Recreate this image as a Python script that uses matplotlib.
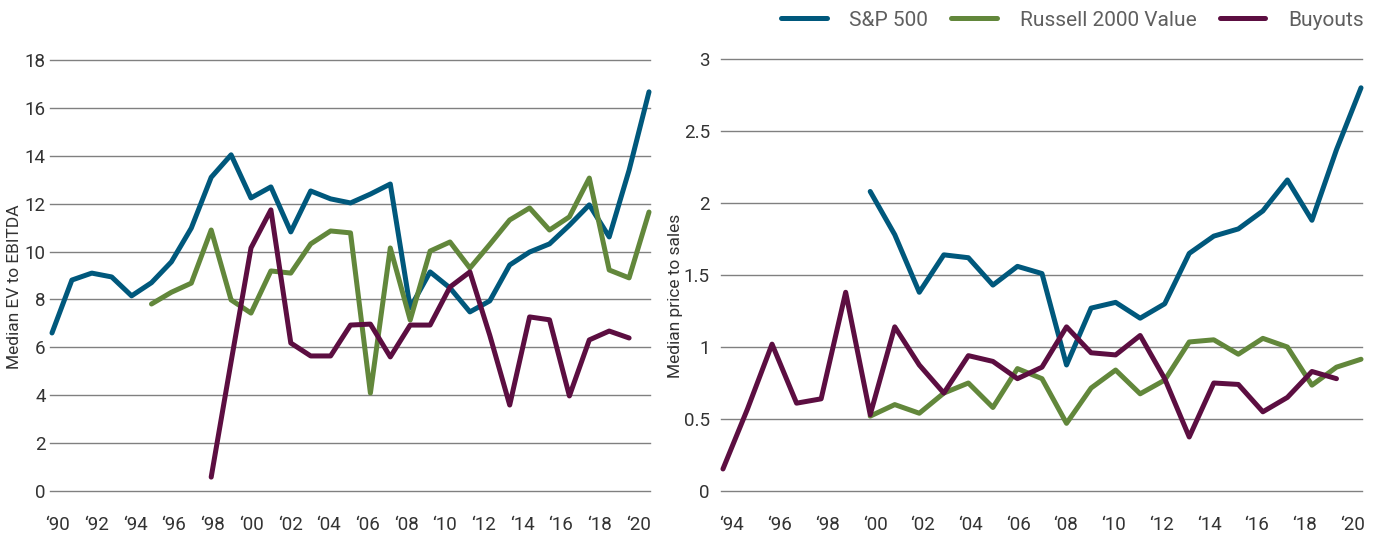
import matplotlib.pyplot as plt
import matplotlib.font_manager as fm

# Left panel: median EV / EBITDA
ev_sp_years = list(range(1990, 2021))
ev_sp = [6.6, 8.81, 9.1, 8.94, 8.15, 8.7, 9.57, 10.98, 13.1, 14.04, 12.24, 12.7, 10.82,
         12.53, 12.2, 12.03, 12.4, 12.82, 7.65, 9.15, 8.48, 7.48, 7.94, 9.44, 9.98,
         10.32, 11.1, 11.95, 10.61, 13.4, 16.67]
ev_r2v_years = list(range(1995, 2021))
ev_r2v = [7.81, 8.3, 8.68, 10.9, 7.98, 7.43, 9.19, 9.1, 10.32, 10.86, 10.78, 4.09, 10.15,
          7.14, 10.02, 10.4, 9.31, 10.3, 11.32, 11.82, 10.9, 11.45, 13.07, 9.23, 8.9, 11.65]
ev_bo_years = list(range(1998, 2020))
ev_bo = [0.58, 5.4, 10.15, 11.74, 6.18, 5.64, 5.64, 6.93, 6.97, 5.6, 6.93, 6.93, 8.52,
         9.15, 6.5, 3.59, 7.27, 7.15, 3.97, 6.31, 6.68, 6.39]

# Right panel: median price / sales
ps_sp_years = list(range(2000, 2021))
ps_sp = [2.08, 1.78, 1.38, 1.64, 1.62, 1.43, 1.56, 1.51, 0.875, 1.27, 1.31, 1.2, 1.3,
         1.65, 1.77, 1.82, 1.945, 2.16, 1.88, 2.37, 2.8]
ps_r2v_years = list(range(2000, 2021))
ps_r2v = [0.52, 0.6, 0.54, 0.68, 0.75, 0.58, 0.85, 0.78, 0.47, 0.715, 0.84, 0.675, 0.77,
          1.035, 1.05, 0.95, 1.06, 1.0, 0.735, 0.86, 0.915]
ps_bo_years = list(range(1994, 2020))
ps_bo = [0.153, 0.57, 1.02, 0.61, 0.64, 1.38, 0.53, 1.14, 0.875, 0.68, 0.94, 0.9, 0.78,
         0.86, 1.14, 0.96, 0.945, 1.08, 0.78, 0.375, 0.75, 0.74, 0.55, 0.65, 0.83, 0.78]

left_labels = list(range(1990, 2021, 2))
right_labels = list(range(1994, 2021, 2))

BLUE = '#00587c'
GREEN = '#62873b'
PURPLE = '#5c0e41'
GRID = '#808080'
TXT = '#333333'

names = {f.name for f in fm.fontManager.ttflist}
FONT = 'Roboto' if 'Roboto' in names else 'DejaVu Sans'

W, H = 1377, 534
fig = plt.figure(figsize=(W / 100, H / 100), dpi=100)
ax1 = fig.add_axes([50 / W, 1 - 491 / H, 600 / W, 431 / H])
ax2 = fig.add_axes([721 / W, 1 - 491 / H, 641 / W, 432 / H])


def label_pos(years, start, shift):
    # the year labels sit on a slightly tighter spacing than the data points
    return [start + shift + (y - start) * 0.972 for y in years]


def style(ax, ylabel, ypad):
    for s in ax.spines.values():
        s.set_visible(False)
    ax.grid(axis='y', color=GRID, lw=1.0)
    ax.set_axisbelow(True)
    for g in ax.yaxis.get_gridlines():
        g.set_clip_on(False)
    ax.tick_params(length=0, labelsize=13.5, labelcolor=TXT)
    ax.tick_params(axis='y', pad=ypad)
    ax.tick_params(axis='x', pad=18)
    for t in ax.get_xticklabels() + ax.get_yticklabels():
        t.set_fontfamily(FONT)
    ax.set_ylabel(ylabel, fontsize=12.5, color=TXT, family=FONT)


for x, y, c, lab in [(ev_sp_years, ev_sp, BLUE, 'S&P 500'),
                     (ev_r2v_years, ev_r2v, GREEN, 'Russell 2000 Value'),
                     (ev_bo_years, ev_bo, PURPLE, 'Buyouts')]:
    ax1.plot(x, y, color=c, lw=3.6, solid_capstyle='round', label=lab, clip_on=False)

for x, y, c in [(ps_sp_years, ps_sp, BLUE), (ps_r2v_years, ps_r2v, GREEN),
                (ps_bo_years, ps_bo, PURPLE)]:
    ax2.plot(x, y, color=c, lw=3.6, solid_capstyle='round', clip_on=False)

ax1.set_xlim(1989.9, 2020.05)
ax1.set_ylim(0, 18)
ax1.set_yticks(range(0, 19, 2))
ax1.set_xticks(label_pos(left_labels, 1990, 0.30))
ax1.set_xticklabels(['\u2018' + f'{y % 100:02d}' for y in left_labels])

ax2.set_xlim(1993.92, 2020.04)
ax2.set_ylim(0, 3)
ax2.set_yticks([0, 0.5, 1, 1.5, 2, 2.5, 3])
ax2.set_yticklabels(['0', '0.5', '1', '1.5', '2', '2.5', '3'])
ax2.set_xticks(label_pos(right_labels, 1994, 0.366))
ax2.set_xticklabels(['\u2018' + f'{y % 100:02d}' for y in right_labels])

style(ax1, 'Median EV to EBITDA', 3)
style(ax2, 'Median price to sales', 8)
ax1.yaxis.set_label_coords(-0.046, 0.473)
ax2.yaxis.set_label_coords(-0.059, 0.451)

leg = fig.legend(*ax1.get_legend_handles_labels(), loc='center right',
                 bbox_to_anchor=(1364 / W, 1 - 20 / H), ncol=3, frameon=False,
                 handlelength=2.2, handletextpad=1.1, columnspacing=1.1,
                 borderpad=0, borderaxespad=0, prop={'family': FONT, 'size': 15})
for t in leg.get_texts():
    t.set_color('#5f5f5f')

fig.savefig('out.png', dpi=100)
